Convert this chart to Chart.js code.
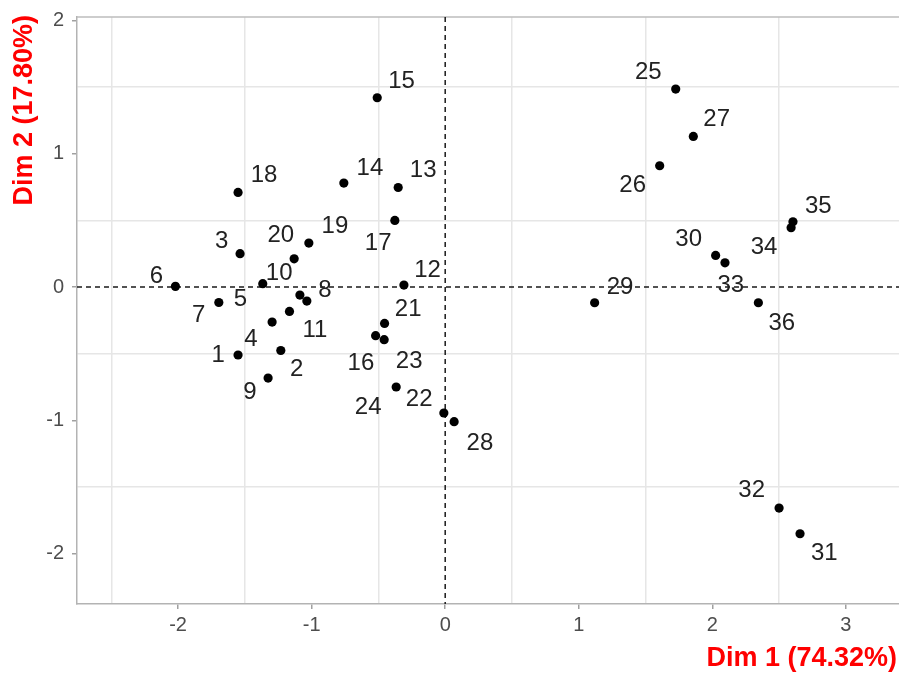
<!DOCTYPE html>
<html>
<head>
<meta charset="utf-8">
<script src="https://cdn.jsdelivr.net/npm/chart.js@4"></script>
<style>
html,body{margin:0;padding:0;background:#fff;}
#wrap{width:899px;height:673px;position:relative;}
</style>
</head>
<body>
<div id="wrap"><canvas id="c" width="899" height="673"></canvas></div>
<script>
// Individuals (row names)
const names = ['1','2','3','4','5','6','7','8','9','10','11','12','13','14','15','16','17','18','19','20','21','22','23','24','25','26','27','28','29','30','31','32','33','34','35','36'];
// Coordinates on Dim 1 and Dim 2
const dim1 = [-1.551,-1.231,-1.536,-1.296,-1.036,-2.020,-1.695,-1.088,-1.326,-1.366,-1.166,-0.309,-0.352,-0.759,-0.509,-0.521,-0.377,-1.551,-1.021,-1.131,-0.454,-0.010,-0.457,-0.367,1.726,1.606,1.858,0.067,1.119,2.025,2.657,2.500,2.095,2.590,2.604,2.345];
const dim2 = [-0.510,-0.476,0.250,-0.263,-0.105,0.005,-0.116,-0.060,-0.683,0.025,-0.183,0.015,0.747,0.780,1.420,-0.365,0.500,0.710,0.330,0.212,-0.273,-0.945,-0.395,-0.750,1.485,0.910,1.130,-1.010,-0.118,0.237,-1.851,-1.658,0.182,0.445,0.490,-0.118];
// Repelled label anchors (data units)
const labelDim1 = [-1.700,-1.113,-1.673,-1.455,-1.533,-2.162,-1.845,-0.901,-1.463,-1.243,-0.976,-0.132,-0.165,-0.564,-0.327,-0.631,-0.502,-1.356,-0.826,-1.231,-0.277,-0.195,-0.270,-0.577,1.521,1.404,2.033,0.260,1.309,1.823,2.839,2.295,2.138,2.387,2.794,2.520];
const labelDim2 = [-0.515,-0.620,0.342,-0.395,-0.090,0.080,-0.215,-0.026,-0.791,0.105,-0.328,0.125,0.875,0.887,1.542,-0.575,0.325,0.835,0.455,0.385,-0.165,-0.845,-0.558,-0.900,1.610,0.760,1.260,-1.170,0.000,0.355,-2.001,-1.528,0.012,0.300,0.605,-0.270];
// Axis titles and ranges
const xTitle = 'Dim 1 (74.32%)';
const yTitle = 'Dim 2 (17.80%)';
const xRange = [-2.757, 3.398];
const yRange = [-2.378, 2.026];

const FONT = '"Liberation Sans", Arial, sans-serif';
const points = dim1.map((x, i) => ({x: x, y: dim2[i]}));

const isInt = v => Math.abs(v - Math.round(v)) < 1e-6;
const isHalf = v => Math.abs(v * 2 - Math.round(v * 2)) < 1e-6 && !isInt(v);

const extras = {
  id: 'extras',
  beforeDatasetsDraw(chart) {
    const {ctx, chartArea: a, scales: {x, y}} = chart;
    ctx.save();
    // top border
    ctx.strokeStyle = '#bdbdbd';
    ctx.lineWidth = 1.5;
    ctx.beginPath();
    ctx.moveTo(a.left, a.top);
    ctx.lineTo(a.right, a.top);
    ctx.stroke();
    // dashed zero lines
    ctx.strokeStyle = '#1a1a1a';
    ctx.lineWidth = 1.5;
    ctx.setLineDash([5, 4]);
    const x0 = x.getPixelForValue(0), y0 = y.getPixelForValue(0);
    ctx.beginPath();
    ctx.moveTo(x0, a.top); ctx.lineTo(x0, a.bottom);
    ctx.moveTo(a.left, y0); ctx.lineTo(a.right, y0);
    ctx.stroke();
    ctx.restore();
  },
  afterDatasetsDraw(chart) {
    const {ctx, scales: {x, y}} = chart;
    ctx.save();
    ctx.fillStyle = '#222';
    ctx.font = '24px ' + FONT;
    ctx.textAlign = 'center';
    ctx.textBaseline = 'middle';
    names.forEach((n, i) => {
      ctx.fillText(n, x.getPixelForValue(labelDim1[i]), y.getPixelForValue(labelDim2[i]));
    });
    // axis titles
    ctx.fillStyle = '#ff0000';
    ctx.font = 'bold 27px ' + FONT;
    ctx.textAlign = 'right';
    ctx.textBaseline = 'middle';
    ctx.fillText(xTitle, chart.chartArea.right - 2, 659);
    ctx.translate(25, 15);
    ctx.rotate(-Math.PI / 2);
    ctx.fillText(yTitle, 0, 0);
    ctx.restore();
  }
};

new Chart(document.getElementById('c'), {
  type: 'scatter',
  data: {
    datasets: [{
      data: points,
      backgroundColor: '#000',
      borderColor: '#000',
      pointRadius: 4.6,
      pointHoverRadius: 4.6,
      borderWidth: 0
    }]
  },
  options: {
    responsive: false,
    animation: false,
    layout: {autoPadding: false, padding: {top: 17, right: 0, bottom: 0, left: 0}},
    plugins: {legend: {display: false}, tooltip: {enabled: false}},
    scales: {
      x: {
        type: 'linear',
        min: xRange[0], max: xRange[1],
        afterFit(s) { s.height = 69; s.paddingLeft = 0; s.paddingRight = 0; },
        border: {display: true, color: '#b3b3b3', width: 1.5},
        grid: {
          color: c => isHalf(c.tick.value) ? '#e6e6e6' : 'rgba(0,0,0,0)',
          tickColor: c => isInt(c.tick.value) ? '#a0a0a0' : 'rgba(0,0,0,0)',
          lineWidth: 1.5,
          tickLength: 5,
          drawTicks: true
        },
        ticks: {
          stepSize: 0.5, includeBounds: false, autoSkip: false, maxRotation: 0,
          maxTicksLimit: 100,
          padding: 4,
          color: '#4d4d4d',
          font: {family: FONT, size: 20},
          callback: v => isInt(v) ? String(Math.round(v)) : ''
        }
      },
      y: {
        type: 'linear',
        min: yRange[0], max: yRange[1],
        afterFit(s) { s.width = 77; s.paddingTop = 0; s.paddingBottom = 0; },
        border: {display: true, color: '#b3b3b3', width: 1.5},
        grid: {
          color: c => isHalf(c.tick.value) ? '#e6e6e6' : 'rgba(0,0,0,0)',
          tickColor: c => isInt(c.tick.value) ? '#a0a0a0' : 'rgba(0,0,0,0)',
          lineWidth: 1.5,
          tickLength: 5,
          drawTicks: true
        },
        ticks: {
          stepSize: 0.5, includeBounds: false, autoSkip: false,
          maxTicksLimit: 100,
          padding: 8,
          color: '#4d4d4d',
          font: {family: FONT, size: 20},
          callback: v => isInt(v) ? String(Math.round(v)) : ''
        }
      }
    }
  },
  plugins: [extras]
});
</script>
</body>
</html>
